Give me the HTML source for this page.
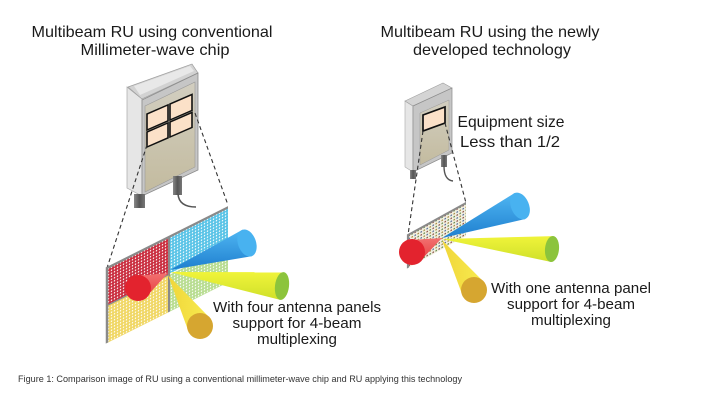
<!DOCTYPE html>
<html><head><meta charset="utf-8"><style>
html,body{margin:0;padding:0;background:#fff;}
svg{display:block;}
text{font-family:"Liberation Sans",sans-serif;fill:#1a1a1a;}
</style></head><body>
<svg width="703" height="413" viewBox="0 0 703 413" xmlns="http://www.w3.org/2000/svg">
<defs>
<pattern id="pRed" width="3" height="3" patternUnits="userSpaceOnUse"><rect width="3" height="3" fill="#c8283a"/><rect x="0.8" y="0.8" width="1.4" height="1.4" fill="#fff"/></pattern>
<pattern id="pCyan" width="3" height="3" patternUnits="userSpaceOnUse"><rect width="3" height="3" fill="#55c2e6"/><rect x="0.8" y="0.8" width="1.4" height="1.4" fill="#fff"/></pattern>
<pattern id="pYel" width="3" height="3" patternUnits="userSpaceOnUse"><rect width="3" height="3" fill="#f0d660"/><rect x="0.8" y="0.8" width="1.4" height="1.4" fill="#fff"/></pattern>
<pattern id="pGrn" width="3" height="3" patternUnits="userSpaceOnUse"><rect width="3" height="3" fill="#b6dc8e"/><rect x="0.8" y="0.8" width="1.4" height="1.4" fill="#fff"/></pattern>
<pattern id="pMix" width="6" height="6" patternUnits="userSpaceOnUse"><rect width="6" height="6" fill="#f3f1e2"/><rect x="0.5" y="0.5" width="1.4" height="1.4" fill="#7a3a30"/><rect x="3.5" y="0.5" width="1.4" height="1.4" fill="#4f7a34"/><rect x="0.5" y="3.5" width="1.4" height="1.4" fill="#3c5a90"/><rect x="3.5" y="3.5" width="1.4" height="1.4" fill="#9a7a28"/></pattern>
<linearGradient id="gConn" x1="0" x2="1" y1="0" y2="0"><stop offset="0" stop-color="#888"/><stop offset="0.5" stop-color="#555"/><stop offset="1" stop-color="#777"/></linearGradient>
<linearGradient id="gInner" x1="0" x2="0" y1="0" y2="1"><stop offset="0" stop-color="#d2cec0"/><stop offset="1" stop-color="#c3bb9f"/></linearGradient>
<linearGradient id="gBlue" x1="0" x2="0" y1="0" y2="1"><stop offset="0" stop-color="#4fb6f2"/><stop offset="1" stop-color="#1f7fcf"/></linearGradient>
<linearGradient id="gGrn" x1="0" x2="0" y1="0" y2="1"><stop offset="0" stop-color="#f0f43a"/><stop offset="1" stop-color="#cfe02a"/></linearGradient>
<linearGradient id="gYel" x1="0" x2="1" y1="0" y2="0"><stop offset="0" stop-color="#f0d63a"/><stop offset="1" stop-color="#f8ec50"/></linearGradient>
<linearGradient id="gRed" x1="0" x2="0" y1="0" y2="1"><stop offset="0" stop-color="#f27070"/><stop offset="1" stop-color="#e53a3a"/></linearGradient>
</defs>

<!-- Titles -->
<text x="152" y="37" font-size="16" text-anchor="middle" textLength="241" lengthAdjust="spacingAndGlyphs">Multibeam RU using conventional</text>
<text x="155" y="55" font-size="16" text-anchor="middle" textLength="149" lengthAdjust="spacingAndGlyphs">Millimeter-wave chip</text>
<text x="490" y="37" font-size="16" text-anchor="middle" textLength="219" lengthAdjust="spacingAndGlyphs">Multibeam RU using the newly</text>
<text x="492" y="55" font-size="16" text-anchor="middle" textLength="158" lengthAdjust="spacingAndGlyphs">developed technology</text>

<!-- LEFT RU -->
<polygon points="127,87 142,99 142,196 127,188" fill="#e6e6e6" stroke="#a8a8a8" stroke-width="0.7"/>
<polygon points="128,87 192,64 198,73 142,99" fill="#d2d2d2" stroke="#a0a0a0" stroke-width="0.7"/>
<polygon points="134,86 190,66 194,71 140,95" fill="#e8e8e8"/>
<polygon points="142,100 198,73 198,170 142,196" fill="#c6c6c6" stroke="#8c8c8c" stroke-width="0.8"/>
<polygon points="145,106 195,82 195,167 145,192" fill="url(#gInner)" stroke="#999" stroke-width="0.6"/>
<g transform="translate(147,114) skewY(-23.5)" fill="#fbe1c8" stroke="#111" stroke-width="1.6">
<rect x="0" y="0" width="21" height="16"/>
<rect x="23" y="0" width="22" height="16"/>
<rect x="0" y="18" width="21" height="15"/>
<rect x="23" y="18" width="22" height="15"/>
</g>
<rect x="134" y="194" width="11" height="14" fill="url(#gConn)"/>
<rect x="173" y="176" width="9" height="19" fill="url(#gConn)"/>
<path d="M178,194 Q179,207 196,207" fill="none" stroke="#555" stroke-width="1.6"/>

<!-- left dashed -->
<line x1="147" y1="145" x2="107" y2="268" stroke="#333" stroke-width="1.1" stroke-dasharray="4,3"/>
<line x1="195" y1="113" x2="228" y2="205" stroke="#333" stroke-width="1.1" stroke-dasharray="4,3"/>

<!-- left antenna panels -->
<g transform="translate(107,268) skewY(-26.6)">
<rect x="0" y="0" width="61" height="37" fill="url(#pRed)"/>
<rect x="0" y="38" width="61" height="37" fill="url(#pYel)"/>
<rect x="63" y="0" width="58" height="37" fill="url(#pCyan)"/>
<rect x="63" y="38" width="58" height="37" fill="url(#pGrn)"/>
<path d="M0,75 L0,0 L121,0" fill="none" stroke="#8a8a8a" stroke-width="2.5"/>
<line x1="62" y1="0" x2="62" y2="75" stroke="#8a8a8a" stroke-width="2"/>
<line x1="0" y1="37.5" x2="61" y2="37.5" stroke="#8a8a8a" stroke-width="1.5"/>
</g>

<!-- left beams -->
<path d="M170,270 L251.6,256.2 L242.4,229.8 Z" fill="url(#gBlue)"/>
<ellipse cx="247" cy="243" rx="9" ry="14" transform="rotate(-19.3 247 243)" fill="#48b2f0"/>
<path d="M170,272 L280.3,299.9 L283.7,272.1 Z" fill="url(#gGrn)"/>
<ellipse cx="282" cy="286" rx="7" ry="14" transform="rotate(7 282 286)" fill="#8cc43c"/>
<path d="M168,275 L211,319.1 L189,332.9 Z" fill="url(#gYel)"/>
<circle cx="200" cy="326" r="13" fill="#d6a630"/>
<path d="M168,273 L143.8,299.6 L132.2,276.4 Z" fill="url(#gRed)"/>
<circle cx="138" cy="288" r="13" fill="#e3232e"/>

<!-- left label -->
<text x="297" y="312" font-size="14.5" text-anchor="middle" textLength="168" lengthAdjust="spacingAndGlyphs">With four antenna  panels</text>
<text x="297" y="328" font-size="14.5" text-anchor="middle" textLength="129" lengthAdjust="spacingAndGlyphs">support for 4-beam</text>
<text x="297" y="344" font-size="14.5" text-anchor="middle" textLength="80" lengthAdjust="spacingAndGlyphs">multiplexing</text>

<!-- RIGHT RU -->
<polygon points="405,101 413,106 413,172 405,167" fill="#e6e6e6" stroke="#a8a8a8" stroke-width="0.6"/>
<polygon points="405,101 443,83 452,88 413,106" fill="#d4d4d4" stroke="#a0a0a0" stroke-width="0.6"/>
<polygon points="413,106 452,88 452,153 413,172" fill="#c6c6c6" stroke="#8c8c8c" stroke-width="0.7"/>
<polygon points="420,113 449,100 449,150 420,165" fill="url(#gInner)" stroke="#999" stroke-width="0.5"/>
<polygon points="423,115 445,107 445,123 423,131" fill="#fbe1c8" stroke="#111" stroke-width="1.7"/>
<rect x="410" y="170" width="6" height="9" fill="url(#gConn)"/>
<rect x="441" y="155" width="6" height="12" fill="url(#gConn)"/>
<path d="M444,166 Q444,180 453,181" fill="none" stroke="#555" stroke-width="1.4"/>

<text x="511" y="127" font-size="16" text-anchor="middle" textLength="107" lengthAdjust="spacingAndGlyphs">Equipment size</text>
<text x="510" y="147" font-size="16" text-anchor="middle" textLength="100" lengthAdjust="spacingAndGlyphs">Less than 1/2</text>

<line x1="423" y1="131" x2="408" y2="235" stroke="#333" stroke-width="1.1" stroke-dasharray="4,3"/>
<line x1="445" y1="123" x2="466" y2="203" stroke="#333" stroke-width="1.1" stroke-dasharray="4,3"/>

<g transform="translate(408,235) skewY(-28.9)">
<rect x="0" y="0" width="58" height="33" fill="url(#pMix)"/>
<path d="M0,33 L0,0 L58,0" fill="none" stroke="#8a8a8a" stroke-width="2.2"/>
</g>

<!-- right beams -->
<path d="M442,238 L525.3,219 L514.7,193 Z" fill="url(#gBlue)"/>
<ellipse cx="520" cy="206" rx="9" ry="14" transform="rotate(-22.3 520 206)" fill="#48b2f0"/>
<path d="M442,239 L550.8,261.9 L553.2,236.1 Z" fill="url(#gGrn)"/>
<ellipse cx="552" cy="249" rx="7" ry="13" transform="rotate(5.2 552 249)" fill="#8cc43c"/>
<path d="M442,240 L484.9,283 L463.1,297 Z" fill="url(#gYel)"/>
<circle cx="474" cy="290" r="13" fill="#d6a630"/>
<path d="M442,238 L417.5,263.8 L406.5,240.2 Z" fill="url(#gRed)"/>
<circle cx="412" cy="252" r="13" fill="#e3232e"/>

<!-- right label -->
<text x="571" y="293" font-size="14.5" text-anchor="middle" textLength="160" lengthAdjust="spacingAndGlyphs">With one antenna  panel</text>
<text x="571" y="309" font-size="14.5" text-anchor="middle" textLength="128" lengthAdjust="spacingAndGlyphs">support for 4-beam</text>
<text x="571" y="325" font-size="14.5" text-anchor="middle" textLength="80" lengthAdjust="spacingAndGlyphs">multiplexing</text>

<!-- caption -->
<text x="18" y="382" font-size="9.5" textLength="444" lengthAdjust="spacingAndGlyphs" style="fill:#333">Figure 1: Comparison image of RU using a conventional millimeter-wave chip and RU applying this technology</text>
</svg>
</body></html>
